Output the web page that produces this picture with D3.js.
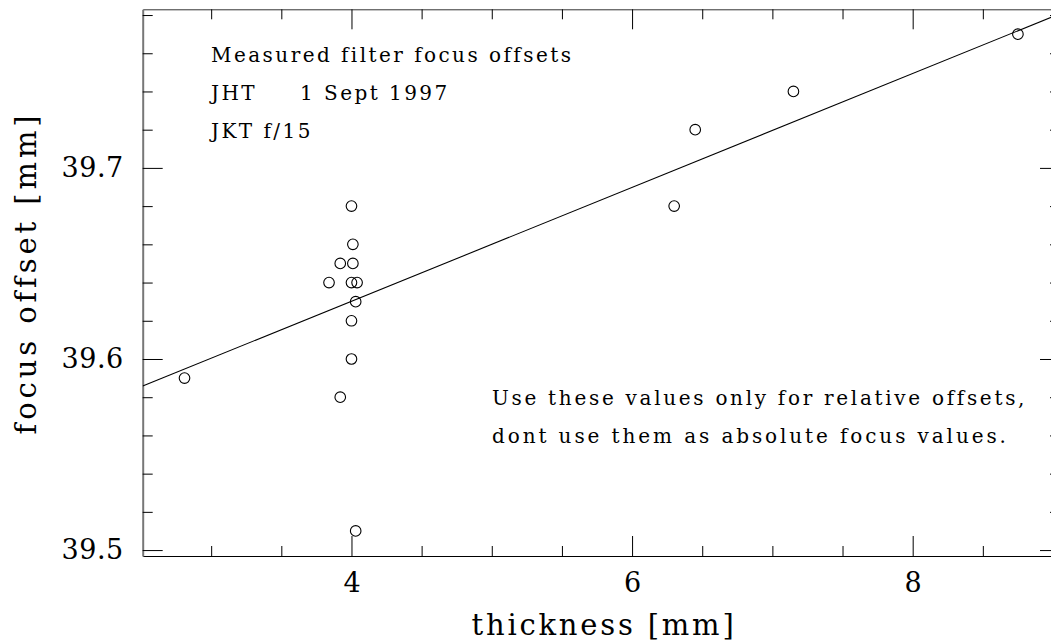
<!DOCTYPE html>
<html>
<head>
<meta charset="utf-8">
<script src="https://cdn.jsdelivr.net/npm/d3@7"></script>
<style>
  html, body { margin: 0; padding: 0; background: #fff; }
  svg { display: block; }
  text { font-family: "DejaVu Serif", serif; fill: #000; }
</style>
</head>
<body>
<svg id="chart" width="1051" height="644"></svg>
<script>
// ---- data ----
const thickness = [2.81, 4.00, 4.01, 3.92, 4.01, 3.84, 4.00, 4.04, 4.03, 4.00, 4.00, 3.92, 4.03, 6.30, 6.45, 7.15, 8.75];
const focusOffset = [39.59, 39.68, 39.66, 39.65, 39.65, 39.64, 39.64, 39.64, 39.63, 39.62, 39.60, 39.58, 39.51, 39.68, 39.72, 39.74, 39.77];
const fitSlope = 0.0298;
const fitIntercept = 39.511;
const xMajorTicks = [4, 6, 8];
const yMajorTicks = [39.5, 39.6, 39.7];
const xTitle = "thickness [mm]";
const yTitle = "focus offset [mm]";
const notesTop = ["Measured filter focus offsets", "JHT", "1 Sept 1997", "JKT f/15"];
const notesBottom = ["Use these values only for relative offsets,", "dont use them as absolute focus values."];

(function () {
// ---- layout ----
const svg = d3.select("#chart");
const pLeft = 142.7, pRight = 1060, pTop = 9.3, pBottom = 556;
const x = d3.scaleLinear().domain([2.512, 9.05]).range([pLeft, pRight]);
const y = d3.scaleLinear().domain([39.4969, 39.783]).range([pBottom, pTop]);

const xMinor = d3.range(3, 9.01, 0.5).filter(v => !xMajorTicks.includes(v));
const yMinor = d3.range(39.50, 39.781, 0.02).map(v => +v.toFixed(2)).filter(v => !yMajorTicks.some(m => Math.abs(m - v) < 1e-6));

function styleAxis(g, color) {
  g.select(".domain").attr("stroke", color);
  g.selectAll(".tick line").attr("stroke", "#000");
}

// bottom axis
const gB = svg.append("g").attr("transform", `translate(0,${pBottom})`);
gB.call(d3.axisBottom(x).tickValues(xMajorTicks).tickSizeInner(-20).tickSizeOuter(0).tickPadding(17).tickFormat(d3.format("d")));
gB.append("g").call(d3.axisBottom(x).tickValues(xMinor).tickSizeInner(-10).tickSizeOuter(0).tickFormat(""))
  .select(".domain").remove();
styleAxis(gB, "#000");
gB.selectAll(".tick text").attr("font-size", 27).attr("font-family", "DejaVu Serif").attr("fill", "#111");

// top axis
const gT = svg.append("g").attr("transform", `translate(0,${pTop})`);
gT.call(d3.axisTop(x).tickValues(xMajorTicks).tickSizeInner(-20).tickSizeOuter(0).tickFormat(""));
gT.append("g").call(d3.axisTop(x).tickValues(xMinor).tickSizeInner(-10).tickSizeOuter(0).tickFormat(""))
  .select(".domain").remove();
styleAxis(gT, "#333");

// left axis
const gL = svg.append("g").attr("transform", `translate(${pLeft},0)`);
gL.call(d3.axisLeft(y).tickValues(yMajorTicks).tickSizeInner(-20).tickSizeOuter(0).tickPadding(19).tickFormat(d3.format(".1f")));
gL.append("g").call(d3.axisLeft(y).tickValues(yMinor).tickSizeInner(-10).tickSizeOuter(0).tickFormat(""))
  .select(".domain").remove();
styleAxis(gL, "#777");
gL.select(".domain").attr("stroke-width", 2);
gL.selectAll(".tick text").attr("font-size", 27).attr("font-family", "DejaVu Serif").attr("fill", "#111").attr("letter-spacing", 0.5);

// right axis
const gR = svg.append("g").attr("transform", `translate(${pRight},0)`);
gR.call(d3.axisRight(y).tickValues(yMajorTicks).tickSizeInner(-20).tickSizeOuter(0).tickFormat(""));
gR.append("g").call(d3.axisRight(y).tickValues(yMinor).tickSizeInner(-10).tickSizeOuter(0).tickFormat(""))
  .select(".domain").remove();

// fit line (clipped to plot)
svg.append("clipPath").attr("id", "clip").append("rect")
  .attr("x", pLeft).attr("y", pTop).attr("width", pRight - pLeft).attr("height", pBottom - pTop);
const xd = x.domain();
svg.append("line")
  .attr("clip-path", "url(#clip)")
  .attr("x1", x(xd[0])).attr("y1", y(fitIntercept + fitSlope * xd[0]))
  .attr("x2", x(xd[1])).attr("y2", y(fitIntercept + fitSlope * xd[1]))
  .attr("stroke", "#000").attr("stroke-width", 1.1);

// points
svg.append("g").selectAll("circle")
  .data(thickness.map((t, i) => [t, focusOffset[i]]))
  .join("circle")
  .attr("cx", d => x(d[0])).attr("cy", d => y(d[1])).attr("r", 5.3)
  .attr("fill", "none").attr("stroke", "#000").attr("stroke-width", 1.1);

// axis titles
svg.append("text").attr("x", 604).attr("y", 635).attr("text-anchor", "middle")
  .attr("font-size", 29).attr("letter-spacing", 2.8).attr("fill", "#111").text(xTitle);
svg.append("text").attr("transform", "translate(36,273) rotate(-90)").attr("text-anchor", "middle")
  .attr("font-size", 29).attr("letter-spacing", 3.9).attr("fill", "#111").text(yTitle);

// annotations
const note = (tx, ty, s, ls) => svg.append("text").attr("x", tx).attr("y", ty)
  .attr("font-size", 20).attr("letter-spacing", ls).attr("fill", "#111").text(s);
note(211, 62, notesTop[0], 2.45);
note(211, 100, notesTop[1], 2.45);
note(300, 100, notesTop[2], 2.45);
note(211, 138, notesTop[3], 2.45);
note(492, 405, notesBottom[0], 2.7);
note(492, 443, notesBottom[1], 2.9);
})();
</script>
</body>
</html>
